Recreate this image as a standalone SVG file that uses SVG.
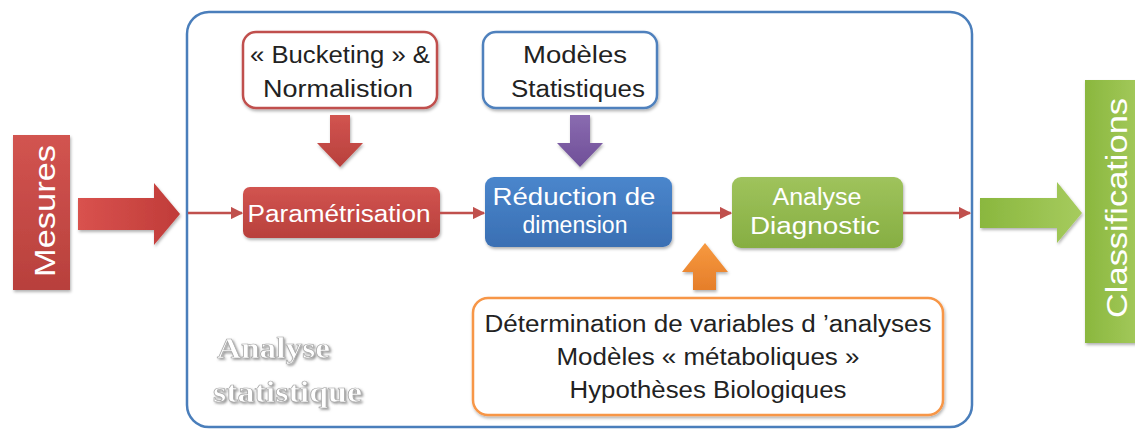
<svg xmlns="http://www.w3.org/2000/svg" width="1135" height="430" viewBox="0 0 1135 430">
<defs>
<linearGradient id="gRed" x1="0" y1="0" x2="0" y2="1"><stop offset="0" stop-color="#d25450"/><stop offset="1" stop-color="#b8403c"/></linearGradient>
<linearGradient id="gRedH" x1="0" y1="0" x2="1" y2="0"><stop offset="0" stop-color="#d9524e"/><stop offset="1" stop-color="#c03c39"/></linearGradient>
<linearGradient id="gBlue" x1="0" y1="0" x2="0" y2="1"><stop offset="0" stop-color="#4a86cc"/><stop offset="1" stop-color="#3a6fb3"/></linearGradient>
<linearGradient id="gGreen" x1="0" y1="0" x2="0" y2="1"><stop offset="0" stop-color="#9fc35c"/><stop offset="1" stop-color="#86ae42"/></linearGradient>
<linearGradient id="gGreenH" x1="0" y1="0" x2="1" y2="0"><stop offset="0" stop-color="#8ab73e"/><stop offset="1" stop-color="#a6cb5e"/></linearGradient>
<linearGradient id="gPurple" x1="0" y1="0" x2="0" y2="1"><stop offset="0" stop-color="#8a6bb0"/><stop offset="1" stop-color="#6f4f98"/></linearGradient>
<linearGradient id="gOrange" x1="0" y1="0" x2="0" y2="1"><stop offset="0" stop-color="#f7993f"/><stop offset="1" stop-color="#e57e2a"/></linearGradient>
<filter id="sh" x="-10%" y="-10%" width="130%" height="130%"><feDropShadow dx="1" dy="2" stdDeviation="1.5" flood-color="#000" flood-opacity="0.3"/></filter>
<filter id="emb" x="-10%" y="-20%" width="130%" height="150%"><feDropShadow dx="1.5" dy="1.5" stdDeviation="1" flood-color="#666" flood-opacity="0.7"/></filter>
<marker id="ah" viewBox="0 0 10 10" refX="9" refY="5" markerWidth="5" markerHeight="5" orient="auto" markerUnits="strokeWidth"><path d="M0,0 L10,5 L0,10 z" fill="#c0504d"/></marker>
</defs>
<style>
.t{font-family:"Liberation Sans",Arial,sans-serif;text-anchor:middle}
.dk{fill:#222}
.wt{fill:#fff}
.conn{stroke:#c0504d;stroke-width:2.5;fill:none;marker-end:url(#ah)}
</style>
<rect width="1135" height="430" fill="#fff"/>

<g id="container">
<rect x="187" y="12" width="785" height="415" rx="22" fill="none" stroke="#4a7ebb" stroke-width="2.5"/>
<g filter="url(#emb)" font-family="'Liberation Serif',serif" font-weight="bold" font-size="29" fill="#fff" stroke="#a8a8a8" stroke-width="0.7">
<text x="217" y="358" textLength="113" lengthAdjust="spacingAndGlyphs">Analyse</text>
<text x="213" y="402" textLength="149" lengthAdjust="spacingAndGlyphs">statistique</text>
</g>
</g>

<g id="mesures">
<rect x="13" y="135" width="57" height="155" fill="url(#gRed)" filter="url(#sh)"/>
<text class="t wt" transform="translate(55,211) rotate(-90)" font-size="30" textLength="132" lengthAdjust="spacingAndGlyphs">Mesures</text>
</g>

<g id="arrow-mesures">
<path d="M78,198 H154 V183 L180,214 L154,245 V230 H78 Z" fill="url(#gRedH)" filter="url(#sh)"/>
</g>

<g id="bucketing">
<rect x="243" y="32" width="194" height="76" rx="13" fill="#fff" stroke="#c0504d" stroke-width="2.5" filter="url(#sh)"/>
<text class="t dk" x="340" y="63" font-size="23" textLength="180" lengthAdjust="spacingAndGlyphs">« Bucketing » &amp;</text>
<text class="t dk" x="338" y="97" font-size="23" textLength="150" lengthAdjust="spacingAndGlyphs">Normalistion</text>
</g>

<g id="modeles">
<rect x="483" y="32" width="174" height="76" rx="13" fill="#fff" stroke="#4f81bd" stroke-width="2.5" filter="url(#sh)"/>
<text class="t dk" x="575" y="63" font-size="23" textLength="104" lengthAdjust="spacingAndGlyphs">Modèles</text>
<text class="t dk" x="578" y="97" font-size="23" textLength="134" lengthAdjust="spacingAndGlyphs">Statistiques</text>
</g>

<g id="arrow-bucketing">
<path d="M330,115 H350 V143 H363 L340,167 L317,143 H330 Z" fill="url(#gRed)" filter="url(#sh)"/>
</g>
<g id="arrow-modeles">
<path d="M570,115 H590 V143 H603 L580,167 L557,143 H570 Z" fill="url(#gPurple)" filter="url(#sh)"/>
</g>

<g id="parametrisation">
<rect x="243" y="187" width="197" height="51" rx="7" fill="url(#gRed)" filter="url(#sh)"/>
<text class="t wt" x="339" y="222" font-size="23" textLength="183" lengthAdjust="spacingAndGlyphs">Paramétrisation</text>
</g>

<g id="reduction">
<rect x="485" y="177" width="187" height="70" rx="9" fill="url(#gBlue)" filter="url(#sh)"/>
<text class="t wt" x="574" y="205" font-size="23" textLength="163" lengthAdjust="spacingAndGlyphs">Réduction de</text>
<text class="t wt" x="575" y="233" font-size="23" textLength="105" lengthAdjust="spacingAndGlyphs">dimension</text>
</g>

<g id="diagnostic">
<rect x="732" y="177" width="171" height="71" rx="9" fill="url(#gGreen)" filter="url(#sh)"/>
<text class="t wt" x="817" y="205" font-size="23" textLength="89" lengthAdjust="spacingAndGlyphs">Analyse</text>
<text class="t wt" x="815" y="234" font-size="23" textLength="130" lengthAdjust="spacingAndGlyphs">Diagnostic</text>
</g>

<g id="arrow-variables">
<path d="M693,290 V272 H682 L705,243 L728,272 H716 V290 Z" fill="url(#gOrange)" filter="url(#sh)"/>
</g>

<g id="variables">
<rect x="473" y="298" width="470" height="117" rx="15" fill="#fff" stroke="#f79646" stroke-width="2.5" filter="url(#sh)"/>
<text class="t dk" x="708" y="332" font-size="23" textLength="447" lengthAdjust="spacingAndGlyphs">Détermination de variables d ’analyses</text>
<text class="t dk" x="708" y="365" font-size="23" textLength="303" lengthAdjust="spacingAndGlyphs">Modèles « métaboliques »</text>
<text class="t dk" x="708" y="398" font-size="23" textLength="277" lengthAdjust="spacingAndGlyphs">Hypothèses Biologiques</text>
</g>

<g id="arrow-classif">
<path d="M980,198 H1057 V182 L1082,213 L1057,243 V228 H980 Z" fill="url(#gGreenH)" filter="url(#sh)"/>
</g>

<g id="classifications">
<rect x="1085" y="80" width="60" height="263" fill="url(#gGreenH)" filter="url(#sh)"/>
<text class="t wt" transform="translate(1127,208) rotate(-90)" font-size="30" textLength="220" lengthAdjust="spacingAndGlyphs">Classifications</text>
</g>

<g id="connectors">
<line class="conn" x1="188" y1="213" x2="242" y2="213"/>
<line class="conn" x1="440" y1="213" x2="484" y2="213"/>
<line class="conn" x1="672" y1="213" x2="731" y2="213"/>
<line class="conn" x1="903" y1="213" x2="970" y2="213"/>
</g>
</svg>
